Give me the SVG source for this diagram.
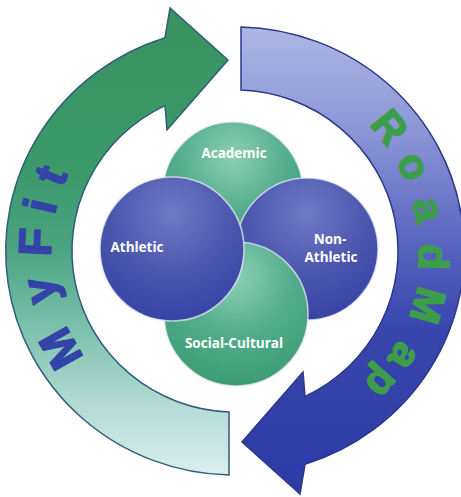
<svg xmlns="http://www.w3.org/2000/svg" width="461" height="497" viewBox="0 0 461 497">
  <defs>
    <linearGradient id="gGreen" gradientUnits="userSpaceOnUse" x1="0" y1="8" x2="0" y2="475">
      <stop offset="0" stop-color="#389360"/>
      <stop offset="0.35" stop-color="#3c996a"/>
      <stop offset="0.52" stop-color="#4ba483"/>
      <stop offset="0.7" stop-color="#80c3b0"/>
      <stop offset="0.86" stop-color="#b6dcd6"/>
      <stop offset="1" stop-color="#dbefee"/>
    </linearGradient>
    <linearGradient id="gBlue" gradientUnits="userSpaceOnUse" x1="0" y1="8" x2="0" y2="475">
      <stop offset="0" stop-color="#2c3aa8"/>
      <stop offset="0.35" stop-color="#3845ac"/>
      <stop offset="0.52" stop-color="#5661bd"/>
      <stop offset="0.78" stop-color="#8c96d7"/>
      <stop offset="1" stop-color="#adb6e4"/>
    </linearGradient>
    <radialGradient id="cBlue" cx="0.5" cy="0.25" r="0.8">
      <stop offset="0" stop-color="#717ac6"/>
      <stop offset="0.5" stop-color="#4d58ae"/>
      <stop offset="1" stop-color="#3440a3"/>
    </radialGradient>
    <radialGradient id="cGreen" cx="0.5" cy="0.25" r="0.8">
      <stop offset="0" stop-color="#8ccfb4"/>
      <stop offset="0.5" stop-color="#52ac8c"/>
      <stop offset="1" stop-color="#389a6e"/>
    </radialGradient>
    <path id="arrowShape" d="M229,475 A229,224 0 0 1 165,37.7 L170,8 L228,60 L167,130 L165,105.6 A163,161 0 0 0 229,411.9 Z"/>
  </defs>
  <style>
    .circ { stroke: #e6e8f3; stroke-opacity: 0.75; stroke-width: 1.6; }
    .lbl { font-family: "Open Sans", "Liberation Sans", sans-serif; font-weight: 700; font-size: 13.5px; fill: #ffffff; text-anchor: middle; }
    .big { font-family: "Liberation Sans", Arial, sans-serif; font-weight: bold; text-anchor: middle; stroke-width: 1.6; stroke-linejoin: round; }
    .myfit { fill: #3443a6; stroke: #3443a6; font-size: 46px; }
    .road { fill: #3c9e4a; stroke: #3c9e4a; font-size: 42px; }
  </style>
  <rect width="461" height="497" fill="#ffffff"/>

  <g id="connectors">
    <g id="myfit-arrow">
      <use href="#arrowShape" fill="url(#gGreen)" stroke="#2f5d7c" stroke-width="1.5"/>
      <text class="big myfit" transform="translate(74.5,341) rotate(240.7)">M</text>
      <text class="big myfit" transform="translate(54.7,287.7) rotate(258.5)">y</text>
      <text class="big myfit" transform="translate(51.2,242.6) rotate(272.6)">F</text>
      <text class="big myfit" transform="translate(55.8,209.3) rotate(283.1)">i</text>
      <text class="big myfit" transform="translate(64.8,181.2) rotate(292.3)">t</text>
    </g>
    <g id="roadmap-arrow">
      <use href="#arrowShape" transform="rotate(180 235 251)" fill="url(#gBlue)" stroke="#2a3888" stroke-width="1.5"/>
      <text class="big road" transform="translate(378.6,136) rotate(51.3)">R</text>
      <text class="big road" transform="translate(401.2,172.1) rotate(64.6)">o</text>
      <text class="big road" transform="translate(415,212.7) rotate(78)">a</text>
      <text class="big road" transform="translate(418.9,256.5) rotate(91.7)">d</text>
      <text class="big road" transform="translate(414,301.6) rotate(105.8)">M</text>
      <text class="big road" transform="translate(393,349.3) rotate(121.9)">a</text>
      <text class="big road" transform="translate(372,373.9) rotate(131.9)">p</text>
    </g>
  </g>

  <g id="academic">
    <circle class="circ" cx="233" cy="192" r="70" fill="url(#cGreen)"/>
    <text class="lbl" x="234" y="158">Academic</text>
  </g>
  <g id="non-athletic">
    <circle class="circ" cx="307" cy="249" r="71" fill="url(#cBlue)"/>
    <text class="lbl" x="330" y="244">Non-</text>
    <text class="lbl" x="331" y="262">Athletic</text>
  </g>
  <g id="social-cultural">
    <circle class="circ" cx="236" cy="314" r="72" fill="url(#cGreen)"/>
    <text class="lbl" x="234" y="348">Social-Cultural</text>
  </g>
  <g id="athletic">
    <circle class="circ" cx="172" cy="249" r="72" fill="url(#cBlue)"/>
    <text class="lbl" x="137" y="252">Athletic</text>
  </g>
</svg>
